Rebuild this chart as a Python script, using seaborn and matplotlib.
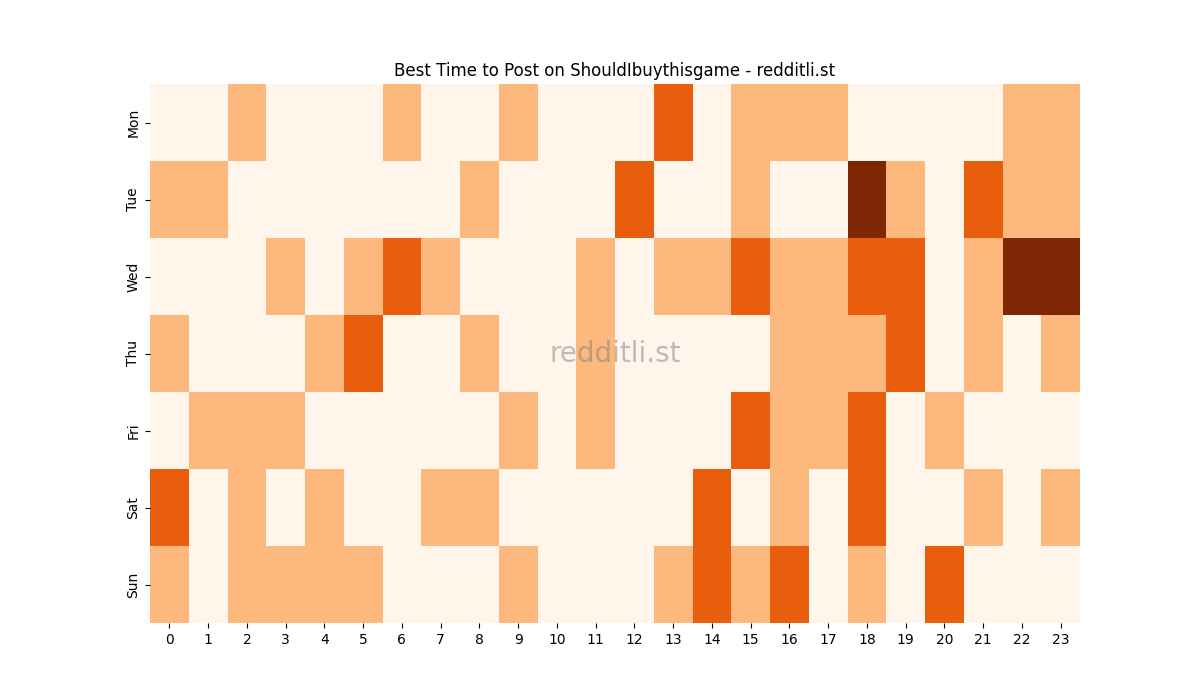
import numpy as np
import pandas as pd
import matplotlib
matplotlib.use("Agg")
import matplotlib.pyplot as plt
import seaborn as sns

days = ['Mon', 'Tue', 'Wed', 'Thu', 'Fri', 'Sat', 'Sun']
hours = list(range(24))

mon = [0, 0, 1, 0, 0, 0, 1, 0, 0, 1, 0, 0, 0, 2, 0, 1, 1, 1, 0, 0, 0, 0, 1, 1]
tue = [1, 1, 0, 0, 0, 0, 0, 0, 1, 0, 0, 0, 2, 0, 0, 1, 0, 0, 3, 1, 0, 2, 1, 1]
wed = [0, 0, 0, 1, 0, 1, 2, 1, 0, 0, 0, 1, 0, 1, 1, 2, 1, 1, 2, 2, 0, 1, 3, 3]
thu = [1, 0, 0, 0, 1, 2, 0, 0, 1, 0, 0, 1, 0, 0, 0, 0, 1, 1, 1, 2, 0, 1, 0, 1]
fri = [0, 1, 1, 1, 0, 0, 0, 0, 0, 1, 0, 1, 0, 0, 0, 2, 1, 1, 2, 0, 1, 0, 0, 0]
sat = [2, 0, 1, 0, 1, 0, 0, 1, 1, 0, 0, 0, 0, 0, 2, 0, 1, 0, 2, 0, 0, 1, 0, 1]
sun = [1, 0, 1, 1, 1, 1, 0, 0, 0, 1, 0, 0, 0, 1, 2, 1, 2, 0, 1, 0, 2, 0, 0, 0]

df = pd.DataFrame([mon, tue, wed, thu, fri, sat, sun], index=days, columns=hours)

fig, ax = plt.subplots(figsize=(12, 7), dpi=100)
sns.heatmap(df, cmap='Oranges', vmin=0, vmax=3, cbar=False, ax=ax)
ax.set_title('Best Time to Post on ShouldIbuythisgame - redditli.st')
ax.set_xlabel('')
ax.set_ylabel('')
ax.text(0.5, 0.5, 'redditli.st', transform=ax.transAxes, ha='center', va='center',
        fontsize=20, color='grey', alpha=0.5)
plt.savefig('out.png')
